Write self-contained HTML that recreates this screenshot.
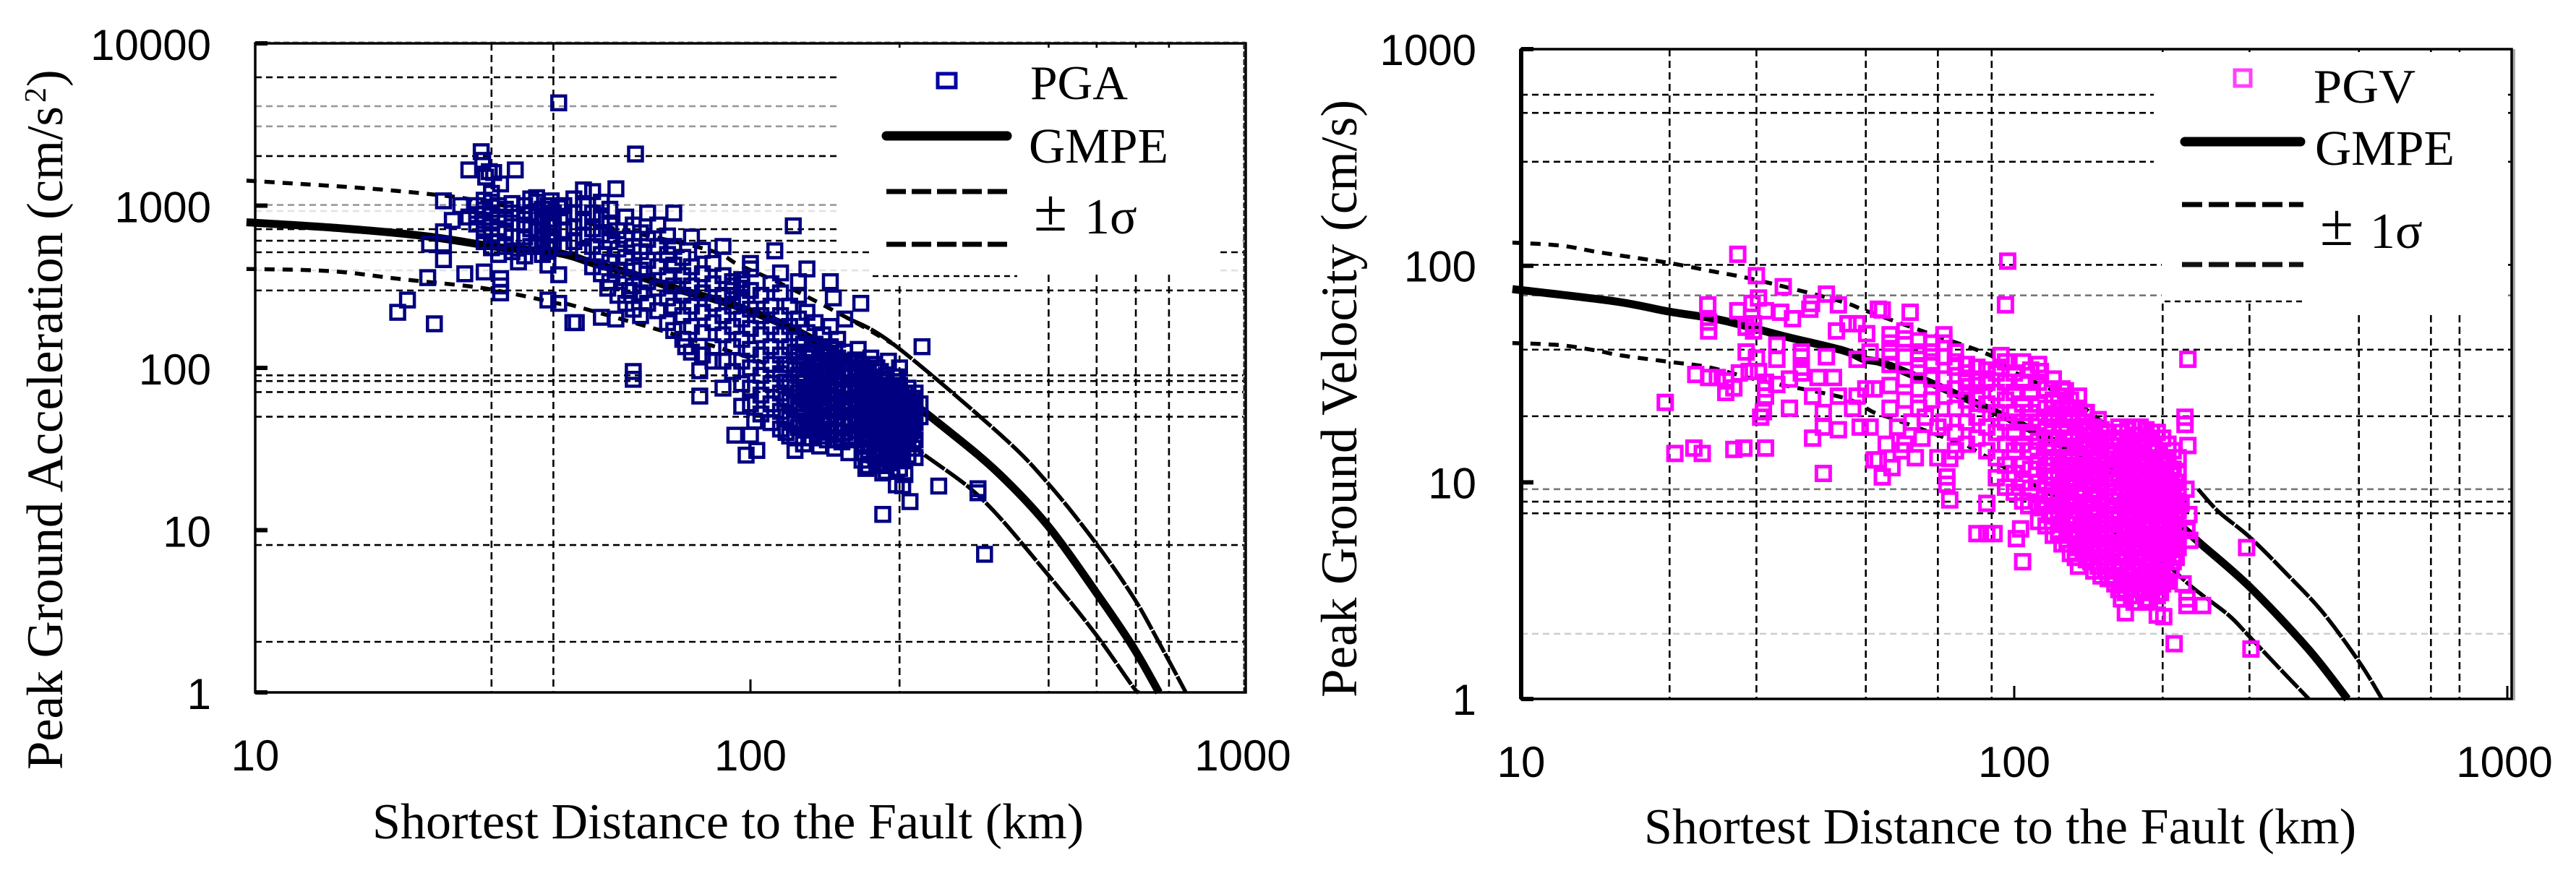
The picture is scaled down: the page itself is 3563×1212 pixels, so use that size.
<!DOCTYPE html>
<html lang="en">
<head>
<meta charset="utf-8">
<title>Peak Ground Acceleration and Velocity versus Distance</title>
<style>
html,body{margin:0;padding:0;background:#fff;width:3563px;height:1212px;overflow:hidden}
svg{display:block}
.serif{font-family:"Liberation Serif",serif;fill:#000}
.sans{font-family:"Liberation Sans",sans-serif;fill:#000;font-size:60px}
</style>
</head>
<body>
<svg id="figure" xmlns="http://www.w3.org/2000/svg" width="3563" height="1212" viewBox="0 0 3563 1212">
  <rect x="0" y="0" width="3563" height="1212" fill="#fff"/>
  <g id="pga-grid"></g>
  <g fill="#fff">
    <rect x="1163" y="66" width="556" height="274"/>
    <rect x="1207" y="340" width="479" height="36"/>
    <rect x="1207" y="376" width="211" height="18"/>
    <line x1="1207" y1="382" x2="1407" y2="382" stroke="#000" stroke-width="2.5" stroke-dasharray="8 6"/>
  </g>
  <g id="pgv-grid"></g>
  <g fill="#fff">
    <rect x="2979" y="72" width="489" height="288"/>
    <rect x="2990" y="360" width="478" height="55"/>
    <rect x="3200" y="415" width="268" height="16"/>
    <line x1="2994" y1="417" x2="3190" y2="417" stroke="#000" stroke-width="2.5" stroke-dasharray="8 6"/>
  </g>
  <g id="pga-curves"></g>
  <g id="pgv-curves"></g>
  <g id="pga-points"></g>
  <g id="pgv-points"></g>

  <g fill="none">
    <line x1="353" y1="58" x2="1723" y2="58" stroke="#bbb" stroke-width="2" stroke-dasharray="8 5"/>
    <rect x="353" y="60" width="1370" height="898" stroke="#000" stroke-width="3.5"/>
    <line x1="1721" y1="60" x2="1721" y2="958" stroke="#222" stroke-width="3" stroke-dasharray="8 3"/>
  </g>
  <g fill="none">
    <line x1="3477" y1="68" x2="3477" y2="969" stroke="#aaa" stroke-width="4"/>
    <rect x="2104" y="68" width="1370" height="899" stroke="#000" stroke-width="3.5"/>
    <line x1="2104" y1="68" x2="2104" y2="967" stroke="#000" stroke-width="6"/>
  </g>
  <g id="pga-ticks"></g>
  <g id="pgv-ticks"></g>

  <text class="serif" transform="translate(86,1065) rotate(-90)" font-size="71" textLength="918" lengthAdjust="spacing">Peak Ground Acceleration (cm/s</text>
  <text class="serif" transform="translate(63,142) rotate(-90)" font-size="42">2</text>
  <text class="serif" transform="translate(86,120) rotate(-90)" font-size="71">)</text>
  <text class="serif" x="515" y="1160" font-size="70" textLength="984" lengthAdjust="spacing">Shortest Distance to the Fault (km)</text>

  <text class="serif" transform="translate(1876,965) rotate(-90)" font-size="71" textLength="827" lengthAdjust="spacing">Peak Ground Velocity (cm/s)</text>
  <text class="serif" x="2274" y="1167" font-size="70" textLength="985" lengthAdjust="spacing">Shortest Distance to the Fault (km)</text>

  <g>
    <rect x="1297" y="102" width="25" height="19" fill="none" stroke="#0000a0" stroke-width="5"/>
    <text class="serif" x="1425" y="137" font-size="67" textLength="135" lengthAdjust="spacingAndGlyphs">PGA</text>
    <line x1="1226" y1="188" x2="1393" y2="188" stroke="#000" stroke-width="13" stroke-linecap="round"/>
    <text class="serif" x="1423" y="225" font-size="69" textLength="193" lengthAdjust="spacingAndGlyphs">GMPE</text>
    <line x1="1226" y1="265" x2="1393" y2="265" stroke="#000" stroke-width="7" stroke-dasharray="27 8"/>
    <line x1="1226" y1="338" x2="1393" y2="338" stroke="#000" stroke-width="7" stroke-dasharray="27 8"/>
    <text class="serif" x="1430" y="319" font-size="84">±</text>
    <text class="serif" x="1500" y="323" font-size="70">1σ</text>
  </g>
  <g>
    <rect x="3091" y="97" width="22" height="22" fill="none" stroke="#ff40ff" stroke-width="5"/>
    <text class="serif" x="3200" y="142" font-size="67" textLength="141" lengthAdjust="spacingAndGlyphs">PGV</text>
    <line x1="3022" y1="196" x2="3182" y2="196" stroke="#000" stroke-width="13" stroke-linecap="round"/>
    <text class="serif" x="3202" y="228" font-size="69" textLength="193" lengthAdjust="spacingAndGlyphs">GMPE</text>
    <line x1="3018" y1="283" x2="3186" y2="283" stroke="#000" stroke-width="7" stroke-dasharray="28 9"/>
    <line x1="3018" y1="366" x2="3186" y2="366" stroke="#111" stroke-width="7" stroke-dasharray="28 9"/>
    <text class="serif" x="3209" y="339" font-size="84">±</text>
    <text class="serif" x="3278" y="343" font-size="70">1σ</text>
  </g>
</svg>
<script>
// ---- shared tick labels ----
const distanceTicks = [10, 100, 1000];
const pgaTickLabels = [10000, 1000, 100, 10, 1];
const pgvTickLabels = [1000, 100, 10, 1];

// ---- PGA grid values ----
const pgaGridX = [30, 40, 200, 400, 500, 600, 700];
const pgaGridDark = [6180, 2020, 716, 608, 516, 300, 90, 83, 71, 50, 8.1, 2.05];
const pgaGridMid = [3080, 4100, 1010];
const pgaGridLight = [927, 399];

// ---- PGV grid values ----
const pgvGridX = [20, 30, 50, 70, 90, 200, 300, 500, 700, 800];
const pgvGridDark = [616, 508, 302, 101, 41, 20.2, 8.15, 7.2];
const pgvGridMid = [73, 9.3];
const pgvGridLight = [2];

// ---- PGA curves ----
const pgaMeanDist = [9.6, 15, 22.2, 31, 41, 48.5, 56.9, 71.2, 93, 128.6, 195, 256, 319, 399, 497, 592, 668];
const pgaMeanVal = [790, 724, 647, 555, 510, 438, 384, 306, 242, 160, 73, 39, 22, 10.6, 4.2, 1.91, 1];
const pgaUpperDist = [9.6, 16.4, 23.5, 27.8, 41, 79.6, 95, 119, 157, 195, 319, 399, 497, 592, 661, 757];
const pgaUpperVal = [1426, 1285, 1161, 1080, 850, 548, 430, 315, 203, 139, 39, 19.4, 8.4, 3.9, 2.16, 1];
const pgaLowerDist = [9.6, 14.2, 19.6, 27.8, 34, 41, 45, 100, 150, 234, 299, 399, 497, 590, 608];
const pgaLowerVal = [407, 395, 353, 315, 282, 249, 237, 115, 66, 26.6, 14.7, 5.3, 2.3, 1.1, 1];

// ---- PGV curves ----
const pgvMeanDist = [9.6, 15.5, 19.9, 25.6, 34, 45, 49.6, 56.5, 89.6, 128, 174, 223, 239, 300, 394, 474];
const pgvMeanVal = [78, 68.5, 61.5, 56, 47.4, 40.6, 37, 34.3, 21.6, 14.4, 9.8, 6, 5.2, 3.3, 1.71, 1];
const pgvUpperDist = [9.6, 12, 14.2, 17, 20, 24, 30, 44, 50, 65, 88.5, 99, 131, 153, 236, 260, 300, 356, 423, 502, 557];
const pgvUpperVal = [128, 124, 116, 109, 103, 95, 86, 69, 62, 50, 39, 32.7, 24, 18.5, 9.3, 7.3, 5.6, 3.8, 2.5, 1.47, 1];
const pgvLowerDist = [9.6, 12, 14.2, 16, 20, 24, 30.8, 45, 52, 57, 77, 88.5, 204, 230, 272, 300, 351, 396];
const pgvLowerVal = [44, 43, 40.6, 38.5, 36, 34, 29.4, 24.6, 21, 19.6, 15.2, 13, 4.2, 3.27, 2.44, 1.94, 1.33, 1];

// ---- PGA observations: distance (km) ----
const pgaDistance = [
41,58.6,28.6,28.8,27,29.7,30.3,33.5,29.2,31.3,
30,24,26,33,37,39.6,41,25,27,24,
22.5,24,24,22.3,26.5,29,31.3,31.3,31.3,20.3,
19.4,23,34,35,39,41,39,41,43.8,112,
100,115,130,125,145,147,167,58,58,79,
79,102,93,100,103,98,123,153,185,171,
185,197,51.5,57,50,53.5,44.5,74,84,240,
288,288,297,210,203,222,53.5,70,122,48,
28,28,28,29,29,29,29,29,30,30,
30,30,30,31,31,31,31,31,32,32,
32,32,33,33,33,33,35,35,35,35,
36,36,36,36,37,37,37,37,38,38,
38,38,39,39,39,39,40,40,40,42,
42,42,42,44,44,44,44,46,46,46,
46,46,48,48,48,48,50,50,50,50,
50,52,52,52,52,52,54,54,54,54,
56,56,56,56,56,58,58,58,58,58,
60,60,60,60,60,62,62,62,62,62,
65,65,65,65,65,68,68,68,68,68,
70,70,70,70,70,73,73,73,73,73,
76,76,76,76,76,76,80,80,80,80,
80,80,84,84,84,84,84,88,88,88,
88,88,88,88,92,92,92,92,92,92,
92,96,96,96,96,96,96,96,96,96,
100,100,100,100,100,100,100,100,105,105,
105,105,105,105,105,110,110,110,110,110,
110,110,110,115,115,115,115,115,115,115,
115,120,120,120,120,120,120,120,120,125,
125,125,125,125,125,125,125,130,130,130,
130,130,130,130,135,135,135,135,135,135,
135,140,140,140,140,140,140,140,145,145,
145,145,145,145,145,150,150,150,150,150,
150,150,155,155,155,155,155,155,155,160,
160,160,160,160,160,165,165,165,165,165,
165,170,170,170,170,170,170,175,175,175,
175,175,175,180,180,180,180,180,180,180,
185,185,185,185,185,185,190,190,190,190,
190,190,195,195,195,195,195,195,200,200,
200,200,200,200,200,205,205,205,205,205,
210,210,210,215,215,215,215,215,220,220,
118,118,118,118,118,
123,123,123,123,123,123,
128,128,128,128,128,128,128,
133,133,133,133,133,133,
138,138,138,138,138,138,
143,143,143,143,143,143,
148,148,148,148,148,148,148,
153,153,153,153,153,153,
158,158,158,158,158,158,
163,163,163,163,163,163,
168,168,168,168,168,168,168,
173,173,173,173,173,173,173,
178,178,178,178,178,178,178,
183,183,183,183,183,183,183,
188,188,188,188,188,188,188,
193,193,193,193,193,193,
198,198,198,198,198,198,
203,203,203,203,203,
208,208,208,208,208,
213,213,213,213
];

// ---- PGA observations: peak acceleration (cm/s2) ----
const pgaValue = [
4300,2080,2150,1900,1660,1620,1600,1660,1500,1360,
1190,1070,1000,1030,1120,1070,970,810,850,690,
580,580,465,360,380,390,355,320,290,262,
220,187,450,490,430,375,262,250,190,527,
407,385,407,340,340,270,250,95,85,96,
67,47,38.5,38.5,31,29,31,37,12.5,24,
22.5,19,310,300,205,200,190,135,135,18.7,
18,17,7.1,15,18.8,135,1270,900,750,1220,
1000,880,770,1080,940,810,700,600,1050,900,
780,660,550,1000,850,720,600,500,950,820,
700,560,900,780,640,520,1000,880,760,640,
1100,900,720,560,1050,860,700,560,950,780,
620,500,1000,820,680,540,900,760,600,1000,
860,700,560,1100,900,740,600,1250,1000,800,
650,520,900,720,560,420,1050,830,660,500,
380,950,760,600,450,340,700,540,400,280,
850,620,480,360,250,760,560,420,320,230,
680,520,400,290,210,900,620,460,340,250,
760,560,420,310,225,650,500,370,270,190,
560,430,320,240,170,480,370,280,210,150,
640,420,320,240,180,125,530,380,290,220,
165,120,440,330,250,190,110,560,370,280,
210,160,110,75,340,320,300,240,180,135,
95,350,330,310,260,200,150,110,80,58,
440,300,230,175,130,100,75,60,280,210,
160,120,90,68,52,330,240,180,135,105,
80,60,46,290,210,160,120,92,70,54,
42,240,180,135,105,80,62,48,38,280,
200,150,118,90,70,55,43,220,165,125,
98,76,60,47,190,140,108,85,66,52,
42,160,125,96,75,60,47,38,180,135,
105,82,65,51,41,150,115,90,72,57,
45,36,200,125,98,78,62,49,40,110,
88,70,56,45,36,130,100,80,64,51,
41,95,75,60,48,38,30,115,85,68,
54,43,34,100,78,62,50,40,32,26,
85,68,55,44,35,28,110,75,60,48,
38,30,88,68,54,43,34,27,100,78,
60,48,38,30,24,70,55,44,35,22,
62,50,40,70,56,46,36,28,60,50,
105,82,64,50,40,
125,98,76,60,47,37,
140,108,86,67,53,42,34,
122,95,75,59,46,37,
110,86,68,54,42,33,
120,93,73,57,45,36,
130,102,80,64,50,40,32,
110,88,70,55,44,35,
95,76,60,48,38,30,
112,90,72,58,46,37,
105,84,67,54,43,34,27,
96,76,61,49,39,31,25,
105,88,70,56,45,36,29,
95,76,61,49,39,31,25,
90,70,56,45,36,29,23,
78,62,50,40,32,26,
88,70,56,44,35,28,
65,52,41,33,27,
75,58,46,37,29,
65,52,41,32
];

// ---- PGV observations: distance (km) ----
const pgvDistance = [
27.5,97,96,30,34,41.6,30.3,23.9,27.5,29.4,
31.3,33.6,38.5,38.8,35.5,44,53,24,24,28.6,
29.6,29.6,43.6,46,48,50.2,51,28.6,30,33,
33,37,37,37,41.6,48,22.6,24,25,26,
26,27,27.7,29,30.3,31.3,31.3,31.3,31,30.6,
35,33,35,37,40,43,39,19.6,20.5,22.4,
23.3,27,28.3,31.3,41,39,41,44,44,41,
48.7,51,47,48,52,50,52,54,54,61.5,
225,94,94,113,127,139,148,163,222,222,
225,223,226,224,227,220,224,224,168,195,
201,211,84,88,91,103,101,104,88,74,
107,73,73,54,56.5,53,63,70,74,59,
55,296,302,241,60,65,58,62,66,70,
56,56,56,56,56,56,60,60,60,60,
60,64,64,64,64,64,64,68,68,68,
68,68,72,72,72,72,72,72,76,76,
76,76,76,76,76,80,80,80,80,80,
80,80,84,84,84,84,84,84,88,88,
88,88,88,88,92,92,92,92,92,92,
96,96,96,96,96,96,96,100,100,100,
100,100,100,100,104,104,104,104,104,104,
104,104,108,108,108,108,108,108,108,112,
112,112,112,112,112,112,112,112,116,116,
116,116,116,116,116,116,120,120,120,120,
120,120,120,120,120,125,125,125,125,125,
125,125,125,125,130,130,130,130,130,130,
130,130,130,135,135,135,135,135,135,135,
135,135,135,140,140,140,140,140,140,140,
140,140,145,145,145,145,145,145,145,145,
145,150,150,150,150,150,150,150,150,150,
155,155,155,155,155,155,155,155,155,160,
160,160,160,160,160,160,160,160,165,165,
165,165,165,165,165,165,165,165,170,170,
170,170,170,170,170,170,170,175,175,175,
175,175,175,175,175,175,175,180,180,180,
180,180,180,180,180,180,185,185,185,185,
185,185,185,185,185,185,190,190,190,190,
190,190,190,190,190,195,195,195,195,195,
195,195,195,195,200,200,200,200,200,200,
200,200,205,205,205,205,205,205,210,210,
210,210,210,210,215,215,215,215,215,218,
185,190,195,200,205,210,215,175,180,170,
118,118,118,118,118,118,
123,123,123,123,123,123,123,123,
128,128,128,128,128,128,128,128,
133,133,133,133,133,133,133,133,133,
138,138,138,138,138,138,138,138,
143,143,143,143,143,143,143,143,
148,148,148,148,148,148,148,148,
153,153,153,153,153,153,153,153,
158,158,158,158,158,158,158,158,
163,163,163,163,163,163,163,163,163,
168,168,168,168,168,168,168,168,168,
173,173,173,173,173,173,173,173,173,
178,178,178,178,178,178,178,178,
183,183,183,183,183,183,183,183,183,
188,188,188,188,188,188,188,188,188,
193,193,193,193,193,193,193,193,
198,198,198,198,198,198,198,198,
203,203,203,203,203,203,203,
208,208,208,208,208,208,
213,213,213,213,213
];

// ---- PGV observations: peak velocity (cm/s) ----
const pgvValue = [
113,105,66,90,80,74,71,66,62,67,
62,61,63,67,57,66,63,55,50,52,
54,50,50,54,54,48.6,40,40,37.5,43,
37,40,38,34,38,37,31.5,30.5,30.5,29.4,
26,27.3,32,32.5,32.5,29,27,25,21.2,20,
22,28.3,30,32,30.5,30.5,16,23.4,13.6,14.4,
13.6,14.2,14.4,14.4,11,25,21,25,17.5,18,
18,18,22,25,27,27,12.7,10.6,62.5,61,
37,38.5,34,32.5,26.5,21,19.5,18,20,18.5,
14.8,9.3,7.1,6,5.4,3.4,2.9,2.7,2.5,2.44,
2.4,1.8,5.8,5.8,5.8,6.1,5.5,4.3,8,8.3,
7.8,10.6,9.8,10.6,11.7,12.7,13,13,12.9,14,
15,5,1.7,2.7,15,16,18,19,20,18,
48,44,40,35,28,22,50,46,38,30,
24,45,40,37,34,27,22,44,40,36,
30,24,48,44,38,30,25,19,40,36,
34,27,22,17,14,35,32,30,29,24,
19,15,34,30,28,25,20,16,33,30,
29,23,18,14,32,26,21,17,13,10.5,
36,29,24,19,15,12,9.5,32,26,21,
17,14,11,9,36,29,23,19,15,12,
10,8.2,33,26,21,17,14,11.5,9.4,35,
29,23,19,15.5,12.5,10,8,6.6,27,22,
18,14.5,12,9.7,7.8,6.3,30,24,19.5,16,
13,10.5,8.5,7,5.7,27,22,18,14.5,12,
9.6,7.8,6.4,5.2,24,19.5,16,13,10.5,8.6,
7,5.7,4.7,25,20,16.5,13.5,11,9,7.4,
6,5,4.1,21,17.5,14.5,12,10,8,6.6,
5.4,4.4,18,15,12.5,10.2,8.4,7,5.7,4.7,
3.9,17.5,14.5,12,9.8,8,6.6,5.5,4.5,3.7,
17,14,11.5,9.5,7.8,6.4,5.2,4.3,3.6,16,
13.5,11,9,7.4,6.1,5,4.1,3.4,17,14,
11.5,9.5,7.8,6.4,5.2,4.3,3.5,2.9,16,13,
10.8,8.9,7.3,6,5,4.1,3.4,16.5,13.5,11,
9,7.4,6.1,5,4.1,3.4,2.8,15,12.5,10.2,
8.4,7,5.7,4.7,3.9,3.2,16,13,10.8,9,
7.4,6.1,5,4.1,3.4,2.8,15,12.5,10.2,8.4,
7,5.7,4.7,3.9,3.2,14,11.5,9.5,7.8,6.4,
5.2,4.3,3.6,3,13,11,9,7.4,6.1,5,
4.1,3.4,12.5,10.2,8.4,7,5.7,4.7,11.5,9.5,
7.8,6.4,5.2,4.3,11,9,7.4,6.1,5,8,
17.5,17,17,16,15,14,13,18,18,17.5,
20,16,13,10.7,8.7,7.1,
25,20,16,13,10.8,8.8,7.2,5.9,
22,18,14.5,11.8,9.6,7.8,6.4,5.2,
22,18,14.7,12,9.9,8.1,6.7,5.5,4.5,
19,15.7,13,10.7,8.8,7.2,5.9,4.8,
16.5,13.6,11.2,9.2,7.6,6.3,5.2,4.3,
16,13.2,10.9,9,7.4,6.1,5,4.1,
15.5,12.8,10.5,8.6,7.1,5.8,4.8,3.9,
14.8,12.2,10,8.2,6.8,5.6,4.6,3.7,
15.5,12.8,10.5,8.6,7.1,5.8,4.7,3.9,3.2,
14.5,12,9.9,8.1,6.7,5.5,4.5,3.7,3.1,
15,12.2,10,8.2,6.8,5.5,4.5,3.7,3,
13.8,11.3,9.3,7.7,6.3,5.2,4.3,3.5,
14.5,12,9.9,8.1,6.7,5.5,4.5,3.7,3.1,
13.8,11.3,9.3,7.7,6.3,5.2,4.3,3.5,2.9,
12.8,10.5,8.6,7.1,5.8,4.8,3.9,3.3,
12,9.9,8.1,6.7,5.5,4.5,3.7,3.1,
11.3,9.3,7.7,6.3,5.2,4.3,3.5,
10.8,8.9,7.3,6,4.9,4,
10,8.2,6.8,5.5,4.5
];

// ---- axis functions ----
function pgaX(v) { return 353 + 685 * (Math.log10(v) - 1); }
function pgaY(v) { return 60 + 224.5 * (4 - Math.log10(v)); }
function pgvX(v) { return 2104 + 682 * (Math.log10(v) - 1); }
function pgvY(v) { return 68 + 299.7 * (3 - Math.log10(v)); }

const SVG_NS = 'http://www.w3.org/2000/svg';
function make(tag, parent, props) {
  const el = document.createElementNS(SVG_NS, tag);
  for (const k in props) el.setAttribute(k, props[k]);
  parent.appendChild(el);
  return el;
}

function drawGrid(group, xs, groups, sx, sy, left, right, top, bottom) {
  groups.forEach(function (g) {
    g.values.forEach(function (v) {
      const el = make('line', group, {x1: left, x2: right, y1: sy(v), y2: sy(v), stroke: g.color, 'stroke-width': 2.6, 'stroke-dasharray': '9 6'});
      
      
    });
  });
  xs.forEach(function (v) {
    const el = make('line', group, {x1: sx(v), x2: sx(v), y1: top, y2: bottom, stroke: '#000', 'stroke-width': 2.6, 'stroke-dasharray': '10 6'});
    
    
  });
}

// Draws a smooth curve through the values that fall inside the distance range.
function pathFrom(dist, val, sx, sy, from, to) {
  const pts = [];
  for (let i = 0; i < dist.length; i++) {
    if (dist[i] < from || dist[i] > to) continue;
    pts.push([sx(dist[i]), sy(val[i])]);
  }
  if (!pts.length) return '';
  let d = 'M' + pts[0][0].toFixed(1) + ' ' + pts[0][1].toFixed(1);
  for (let i = 0; i < pts.length - 1; i++) {
    const p0 = pts[i - 1] || pts[i];
    const p1 = pts[i];
    const p2 = pts[i + 1];
    const p3 = pts[i + 2] || p2;
    const c1x = p1[0] + (p2[0] - p0[0]) / 6;
    const c1y = p1[1] + (p2[1] - p0[1]) / 6;
    const c2x = p2[0] - (p3[0] - p1[0]) / 6;
    const c2y = p2[1] - (p3[1] - p1[1]) / 6;
    d += 'C' + c1x.toFixed(1) + ' ' + c1y.toFixed(1) + ' ' + c2x.toFixed(1) + ' ' + c2y.toFixed(1) + ' ' + p2[0].toFixed(1) + ' ' + p2[1].toFixed(1);
  }
  return d;
}

function drawCurves(group, sx, sy, mean, upper, lower, splitAt) {
  const solid = make('path', group, {d: pathFrom(mean[0], mean[1], sx, sy, 0, 1e9), fill: 'none', stroke: '#000', 'stroke-width': 11, 'stroke-linejoin': 'round'});
  
  
  [upper, lower].forEach(function (c) {
    const dashed = make('path', group, {d: pathFrom(c[0], c[1], sx, sy, 0, splitAt), fill: 'none', stroke: '#000', 'stroke-width': 5.5, 'stroke-dasharray': '14 11'});
    
    
    const steep = make('path', group, {d: pathFrom(c[0], c[1], sx, sy, splitAt * 0.75, 1e9), fill: 'none', stroke: '#000', 'stroke-width': 5.5, 'stroke-dasharray': '34 2'});
    
    
  });
}

function drawPoints(group, dist, val, sx, sy, color, strokeWidth) {
  const n = Math.min(dist.length, val.length);
  for (let i = 0; i < n; i++) {
    const el = make('rect', group, {x: (sx(dist[i]) - 9.5).toFixed(1), y: (sy(val[i]) - 9.5).toFixed(1), width: 19, height: 19, fill: 'none', stroke: color, 'stroke-width': strokeWidth});
    
    
  }
}

function drawAxisLabels(group, yLabels, sx, sy, yRight, xBaseline, tickLeft, tickBottom, yOffset) {
  yLabels.forEach(function (v) {
    const t = make('text', group, {x: yRight, y: sy(v) + yOffset, 'text-anchor': 'end', 'class': 'sans'});
    t.textContent = String(v);
    
    
    const m = make('line', group, {x1: tickLeft, x2: tickLeft + 17, y1: sy(v), y2: sy(v), stroke: '#000', 'stroke-width': 6});
    
    
  });
  distanceTicks.forEach(function (v) {
    const t = make('text', group, {x: sx(v) - (v === 1000 ? 4 : 0), y: xBaseline, 'text-anchor': 'middle', 'class': 'sans'});
    t.textContent = String(v);
    
    
    const m = make('line', group, {x1: sx(v), x2: sx(v), y1: tickBottom - 18, y2: tickBottom, stroke: '#000', 'stroke-width': 3});
    
    
  });
}

drawGrid(document.getElementById('pga-grid'), pgaGridX, [
  {values: pgaGridLight, color: '#e2e2e2'},
  {values: pgaGridMid, color: '#999'},
  {values: pgaGridDark, color: '#000'}
], pgaX, pgaY, 353, 1720, 60, 958);
drawGrid(document.getElementById('pgv-grid'), pgvGridX, [
  {values: pgvGridLight, color: '#ccc'},
  {values: pgvGridMid, color: '#777'},
  {values: pgvGridDark, color: '#000'}
], pgvX, pgvY, 2104, 3474, 68, 967);

drawCurves(document.getElementById('pga-curves'), pgaX, pgaY, [pgaMeanDist, pgaMeanVal], [pgaUpperDist, pgaUpperVal], [pgaLowerDist, pgaLowerVal], 200);
drawCurves(document.getElementById('pgv-curves'), pgvX, pgvY, [pgvMeanDist, pgvMeanVal], [pgvUpperDist, pgvUpperVal], [pgvLowerDist, pgvLowerVal], 220);

drawPoints(document.getElementById('pga-points'), pgaDistance, pgaValue, pgaX, pgaY, '#000080', 4.5);
drawPoints(document.getElementById('pgv-points'), pgvDistance, pgvValue, pgvX, pgvY, '#ff00ff', 5);

drawAxisLabels(document.getElementById('pga-ticks'), pgaTickLabels, pgaX, pgaY, 292, 1066, 353, 958, 23);
drawAxisLabels(document.getElementById('pgv-ticks'), pgvTickLabels, pgvX, pgvY, 2042, 1075, 2104, 967, 22);
</script>
</body>
</html>
